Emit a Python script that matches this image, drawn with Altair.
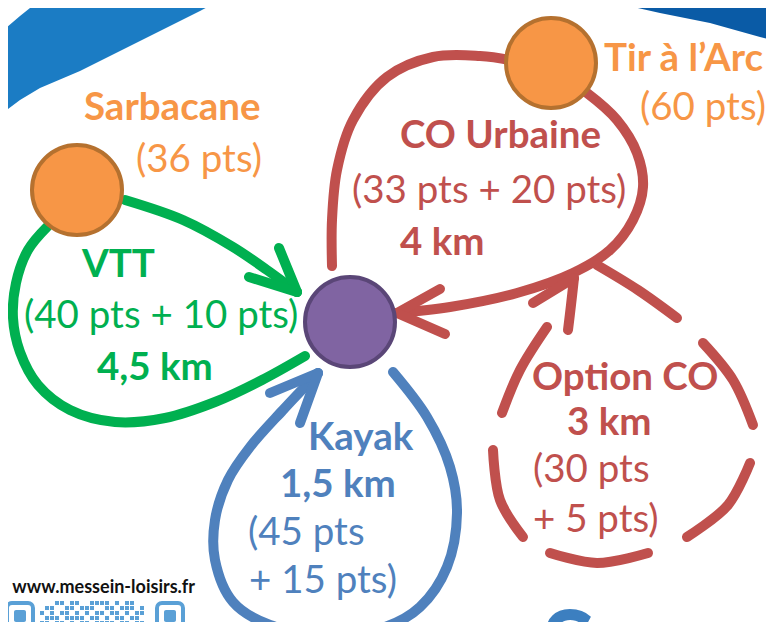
import altair as alt
import pandas as pd

# ---------------- data (reference pixel coordinates) ----------------
# decorative blue band at the top
band_left_x = [0, 20, 40, 80, 120, 160, 200, 230]
band_left_top = [33, 16, 0, -20, -20, -20, -20, -20]
band_left_bot = [115, 100, 88, 71, 51, 31, 11, -5]
band_right_x = [590, 620, 660, 710, 760, 780]
band_right_top = [-20, -20, -20, -20, -20, -20]
band_right_bot = [-3, 4, 13, 23, 37, 42]

# nodes
node_names = ["Sarbacane", "Tir à l'Arc", "Départ"]
node_x = [77, 551, 350]
node_y = [190, 63, 322]
node_fill = ["#f79646", "#f79646", "#8064a2"]
node_stroke = ["#b5712f", "#b5712f", "#5a4677"]

# loops / arrows
vtt_top_x = [125, 183, 233, 267, 297]
vtt_top_y = [200, 220, 247, 270, 292]
vtt_bot_x = [47, 28, 16, 13, 20, 38, 70, 115, 165, 215, 262, 305]
vtt_bot_y = [227, 250, 283, 318, 352, 385, 410, 422, 418, 402, 380, 356]
vtt_wing1_x = [279, 297]
vtt_wing1_y = [248, 292]
vtt_wing2_x = [249, 297]
vtt_wing2_y = [277, 292]

co_x = [332, 332, 337, 353, 387, 433, 480, 510, 551, 587, 617, 637, 643, 633, 610, 573, 517, 450, 397]
co_y = [266, 220, 170, 120, 77, 57, 56, 60, 70, 93, 120, 153, 187, 220, 250, 273, 293, 307, 313]
co_wing1_x = [440, 397]
co_wing1_y = [289, 313]
co_wing2_x = [445, 397]
co_wing2_y = [334, 313]

kayak_x = [393, 427, 450, 457, 447, 420, 385, 330, 270, 233, 215, 215, 228, 250, 283, 318]
kayak_y = [372, 417, 467, 513, 567, 607, 627, 634, 625, 602, 560, 520, 480, 447, 410, 373]
kayak_wing1_x = [270, 318]
kayak_wing1_y = [393, 373]
kayak_wing2_x = [300, 318]
kayak_wing2_y = [423, 373]

opt_dashes_x = [[597, 638, 677], [703, 733, 753], [750, 728, 687], [648, 597, 550],
                [523, 500, 493], [502, 520, 547], [568, 571, 574], [533, 574]]
opt_dashes_y = [[265, 290, 318], [343, 380, 425], [463, 505, 537], [553, 563, 553],
                [537, 500, 450], [413, 370, 327], [330, 305, 278], [303, 278]]

# texts
bold_labels = ["Sarbacane", "Tir à l’Arc", "CO Urbaine", "4 km", "VTT", "4,5 km",
               "Kayak", "1,5 km", "Option CO", "3 km"]
bold_x = [84, 604, 400, 400, 82, 97, 308, 280, 532, 567]
bold_y = [120, 71, 148, 255, 277, 380, 450, 497, 390, 435]
bold_col = ["#f79646", "#f79646", "#c0504d", "#c0504d", "#00b050", "#00b050",
            "#4f81bd", "#4f81bd", "#c0504d", "#c0504d"]

norm_labels = ["(36 pts)", "(60 pts)", "(33 pts + 20 pts)", "(40 pts + 10 pts)",
               "(45 pts", "+ 15 pts)", "(30 pts", "+ 5 pts)"]
norm_x = [136, 640, 352, 24, 248, 249, 533, 533]
norm_y = [172, 120, 203, 328, 545, 593, 482, 532]
norm_col = ["#f79646", "#f79646", "#c0504d", "#00b050", "#4f81bd", "#4f81bd",
            "#c0504d", "#c0504d"]

site_label = ["www.messein-loisirs.fr"]
title_label = ["Samedi"]

qr_rows = ["0001101100111101011000",
           "0110011011100110111010",
           "1010110101011011010110",
           "0111011110110101101100",
           "1101101011011110110110",
           "0110110110101101011010"]

# ---------------- build tables ----------------
RED, GREEN, BLUE = "#c0504d", "#00b050", "#4f81bd"

bands = []
for xs, ts, bs, c in [(band_left_x, band_left_top, band_left_bot, "#1b7cc4"),
                      (band_right_x, band_right_top, band_right_bot, "#0a5ba6")]:
    for x, t, b in zip(xs, ts, bs):
        bands.append({"x": x, "y": t, "y2": b, "c": c})
bands = pd.DataFrame(bands)

paths = [(vtt_top_x, vtt_top_y, GREEN), (vtt_bot_x, vtt_bot_y, GREEN),
         (vtt_wing1_x, vtt_wing1_y, GREEN), (vtt_wing2_x, vtt_wing2_y, GREEN),
         (co_x, co_y, RED), (co_wing1_x, co_wing1_y, RED), (co_wing2_x, co_wing2_y, RED),
         (kayak_x, kayak_y, BLUE), (kayak_wing1_x, kayak_wing1_y, BLUE),
         (kayak_wing2_x, kayak_wing2_y, BLUE)]
for dx, dy in zip(opt_dashes_x, opt_dashes_y):
    paths.append((dx, dy, RED))
rows = []
for pid, (xs, ys, c) in enumerate(paths):
    for i, (x, y) in enumerate(zip(xs, ys)):
        rows.append({"pid": pid, "i": i, "x": x, "y": y, "c": c})
lines = pd.DataFrame(rows)

nodes = pd.DataFrame({"name": node_names, "x": node_x, "y": node_y,
                      "fill": node_fill, "stroke": node_stroke})
btext = pd.DataFrame({"t": bold_labels, "x": bold_x, "y": bold_y, "c": bold_col})
ntext = pd.DataFrame({"t": norm_labels, "x": norm_x, "y": norm_y, "c": norm_col})

qr = []
for r, row in enumerate(qr_rows):
    for col, ch in enumerate(row):
        if ch == "1":
            qr.append({"x": 40 + 5 * col, "x2": 44 + 5 * col, "y": 601 + 5 * r, "y2": 605 + 5 * r})
qr = pd.DataFrame(qr)
qr_finder = pd.DataFrame({"x": [7, 157], "x2": [33, 183], "y": [603, 603], "y2": [629, 629]})
qr_inner = pd.DataFrame({"x": [14, 164], "x2": [26, 176], "y": [610, 610], "y2": [622, 622]})

# ---------------- chart ----------------
XS = alt.Scale(domain=[8, 766], nice=False, zero=False)
YS = alt.Scale(domain=[8, 622], nice=False, zero=False, reverse=True)

def X(f="x"):
    return alt.X(f + ":Q", scale=XS, axis=None)

def Y(f="y"):
    return alt.Y(f + ":Q", scale=YS, axis=None)

band_layer = alt.Chart(bands).mark_area(clip=True).encode(
    x=X(), y=Y(), y2="y2:Q", detail="c:N", color=alt.Color("c:N", scale=None))

line_layer = alt.Chart(lines).mark_line(
    interpolate="catmull-rom", strokeCap="round", strokeJoin="round", strokeWidth=10, clip=True
).encode(x=X(), y=Y(), detail="pid:N", order="i:Q", color=alt.Color("c:N", scale=None))

node_layer = alt.Chart(nodes).mark_circle(size=8100, strokeWidth=4, opacity=1, clip=True).encode(
    x=X(), y=Y(), color=alt.Color("fill:N", scale=None), stroke=alt.Stroke("stroke:N", scale=None))

bold_layer = alt.Chart(btext).mark_text(
    align="left", baseline="alphabetic", font="Lato", fontWeight="bold", fontSize=38.5, clip=True
).encode(x=X(), y=Y(), text="t:N", color=alt.Color("c:N", scale=None))

norm_layer = alt.Chart(ntext).mark_text(
    align="left", baseline="alphabetic", font="Lato", fontSize=38.5, clip=True
).encode(x=X(), y=Y(), text="t:N", color=alt.Color("c:N", scale=None))

site_layer = alt.Chart(pd.DataFrame({"t": site_label, "x": [195], "y": [593]})).mark_text(
    align="right", baseline="alphabetic", font="Lato", fontWeight="bold", fontSize=18,
    color="#111111", clip=True
).encode(x=X(), y=Y(), text="t:N")

title_layer = alt.Chart(pd.DataFrame({"t": title_label, "x": [541], "y": [682]})).mark_text(
    align="left", baseline="alphabetic", font="Lato", fontWeight="bold", fontSize=100,
    color="#3c7fc0", clip=True
).encode(x=X(), y=Y(), text="t:N")

qr_layer = alt.Chart(qr).mark_rect(color="#5aa0d6", clip=True).encode(
    x=X(), x2="x2:Q", y=Y(), y2="y2:Q")
qr_f_layer = alt.Chart(qr_finder).mark_rect(
    filled=False, stroke="#5aa0d6", strokeWidth=4, cornerRadius=5, clip=True
).encode(x=X(), x2="x2:Q", y=Y(), y2="y2:Q")
qr_i_layer = alt.Chart(qr_inner).mark_rect(color="#5aa0d6", cornerRadius=2, clip=True).encode(
    x=X(), x2="x2:Q", y=Y(), y2="y2:Q")

chart = alt.layer(
    band_layer, line_layer, node_layer, bold_layer, norm_layer, site_layer, title_layer,
    qr_layer, qr_f_layer, qr_i_layer
).properties(
    width=758, height=614, padding=0, autosize=alt.AutoSizeParams(type="none"),
    background="white"
).configure_view(stroke=None)

chart.save("out.html", embed_options={"renderer": "svg", "actions": False})
